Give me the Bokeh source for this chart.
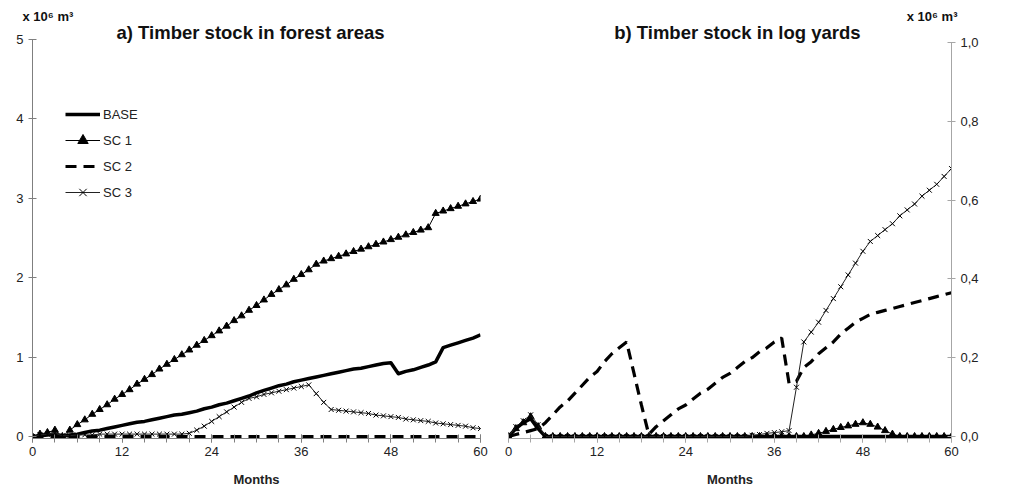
from bokeh.plotting import figure
from bokeh.layouts import row
from bokeh.models import Label, Legend, LegendItem, FixedTicker, CustomJSTickFormatter, Range1d, Title
from bokeh.embed import file_html
from bokeh.resources import INLINE

# ---------------- data ----------------
months = list(range(61))

# a) Timber stock in forest areas (x 10^6 m3)
base_forest = [0.00, 0.01, 0.02, 0.03, 0.00, 0.02, 0.03, 0.05, 0.07, 0.08,
               0.10, 0.12, 0.14, 0.16, 0.18, 0.19, 0.21, 0.23, 0.25, 0.27,
               0.28, 0.30, 0.32, 0.35, 0.37, 0.40, 0.42, 0.45, 0.48, 0.51,
               0.55, 0.58, 0.61, 0.64, 0.66, 0.69, 0.71, 0.73, 0.75, 0.77,
               0.79, 0.81, 0.83, 0.85, 0.86, 0.88, 0.90, 0.92, 0.93, 0.79,
               0.82, 0.84, 0.87, 0.90, 0.94, 1.12, 1.15, 1.18, 1.21, 1.24,
               1.28]
sc1_forest = [0.00, 0.03, 0.05, 0.08, 0.00, 0.08, 0.15, 0.21, 0.28, 0.34,
              0.40, 0.47, 0.53, 0.59, 0.66, 0.72, 0.78, 0.85, 0.91, 0.97,
              1.03, 1.09, 1.15, 1.21, 1.27, 1.33, 1.39, 1.46, 1.52, 1.59,
              1.65, 1.72, 1.79, 1.85, 1.91, 1.98, 2.04, 2.10, 2.17, 2.21,
              2.24, 2.27, 2.30, 2.33, 2.36, 2.39, 2.42, 2.45, 2.48, 2.51,
              2.54, 2.57, 2.60, 2.63, 2.81, 2.84, 2.87, 2.90, 2.93, 2.96,
              2.99]
sc2_forest = [0.00, 0.00, 0.00, 0.00, 0.00, 0.00, 0.00, 0.00, 0.00, 0.00,
              0.00, 0.00, 0.00, 0.00, 0.00, 0.00, 0.00, 0.00, 0.00, 0.00,
              0.00, 0.00, 0.00, 0.00, 0.00, 0.00, 0.00, 0.00, 0.00, 0.00,
              0.00, 0.00, 0.00, 0.00, 0.00, 0.00, 0.00, 0.00, 0.00, 0.00,
              0.00, 0.00, 0.00, 0.00, 0.00, 0.00, 0.00, 0.00, 0.00, 0.00,
              0.00, 0.00, 0.00, 0.00, 0.00, 0.00, 0.00, 0.00, 0.00, 0.00,
              0.00]
sc3_forest = [0.00, 0.02, 0.03, 0.04, 0.01, 0.01, 0.02, 0.02, 0.02, 0.03,
              0.03, 0.03, 0.03, 0.03, 0.03, 0.03, 0.03, 0.03, 0.03, 0.03,
              0.03, 0.04, 0.08, 0.13, 0.19, 0.25, 0.31, 0.37, 0.43, 0.48,
              0.50, 0.53, 0.55, 0.57, 0.59, 0.61, 0.63, 0.65, 0.54, 0.43,
              0.34, 0.33, 0.32, 0.31, 0.30, 0.29, 0.27, 0.26, 0.25, 0.24,
              0.22, 0.21, 0.20, 0.19, 0.17, 0.16, 0.15, 0.14, 0.13, 0.11,
              0.10]

# b) Timber stock in log yards (x 10^6 m3)
base_yard = [0.00, 0.02, 0.035, 0.045, 0.02, 0.00, 0.00, 0.00, 0.00, 0.00,
             0.00, 0.00, 0.00, 0.00, 0.00, 0.00, 0.00, 0.00, 0.00, 0.00,
             0.00, 0.00, 0.00, 0.00, 0.00, 0.00, 0.00, 0.00, 0.00, 0.00,
             0.00, 0.00, 0.00, 0.00, 0.00, 0.00, 0.00, 0.00, 0.00, 0.00,
             0.00, 0.00, 0.00, 0.00, 0.00, 0.00, 0.00, 0.00, 0.00, 0.00,
             0.00, 0.00, 0.00, 0.00, 0.00, 0.00, 0.00, 0.00, 0.00, 0.00,
             0.00]
sc1_yard = [0.00, 0.02, 0.035, 0.05, 0.025, 0.00, 0.00, 0.00, 0.00, 0.00,
            0.00, 0.00, 0.00, 0.00, 0.00, 0.00, 0.00, 0.00, 0.00, 0.00,
            0.00, 0.00, 0.00, 0.00, 0.00, 0.00, 0.00, 0.00, 0.00, 0.00,
            0.00, 0.00, 0.00, 0.00, 0.00, 0.00, 0.00, 0.00, 0.00, 0.00,
            0.00, 0.004, 0.008, 0.013, 0.018, 0.023, 0.027, 0.031, 0.035, 0.031,
            0.024, 0.015, 0.006, 0.00, 0.00, 0.00, 0.00, 0.00, 0.00, 0.00,
            0.00]
sc2_yard = [0.00, 0.005, 0.01, 0.015, 0.02, 0.035, 0.055, 0.075, 0.09, 0.11,
            0.13, 0.15, 0.165, 0.19, 0.21, 0.225, 0.24, 0.16, 0.08, 0.005,
            0.025, 0.04, 0.055, 0.07, 0.08, 0.095, 0.11, 0.12, 0.135, 0.15,
            0.16, 0.175, 0.19, 0.20, 0.215, 0.225, 0.24, 0.25, 0.135, 0.14,
            0.175, 0.19, 0.21, 0.225, 0.24, 0.26, 0.275, 0.29, 0.30, 0.31,
            0.315, 0.32, 0.325, 0.33, 0.335, 0.34, 0.345, 0.35, 0.355, 0.36,
            0.365]
sc3_yard = [0.00, 0.025, 0.04, 0.055, 0.03, 0.00, 0.00, 0.00, 0.00, 0.00,
            0.00, 0.00, 0.00, 0.00, 0.00, 0.00, 0.00, 0.00, 0.00, 0.00,
            0.00, 0.00, 0.00, 0.00, 0.00, 0.00, 0.00, 0.00, 0.00, 0.00,
            0.00, 0.00, 0.00, 0.003, 0.005, 0.008, 0.01, 0.012, 0.015, 0.125,
            0.24, 0.265, 0.29, 0.32, 0.35, 0.38, 0.41, 0.44, 0.47, 0.495,
            0.51, 0.525, 0.54, 0.56, 0.575, 0.59, 0.61, 0.625, 0.64, 0.66,
            0.68]

series_names = ["BASE", "SC 1", "SC 2", "SC 3"]
x_major_ticks = [0, 12, 24, 36, 48, 60]
x_minor_ticks = [0, 3, 6, 9, 12, 15, 18, 21, 24, 27, 30, 33, 36, 39, 42, 45, 48, 51, 54, 57, 60]
left_y_ticks = [0, 1, 2, 3, 4, 5]
right_y_ticks = [0, 0.2, 0.4, 0.6, 0.8, 1.0]
titles = ["a) Timber stock in forest areas", "b) Timber stock in log yards"]
unit_text = "x 10\u2076 m\u00b3"
x_label = "Months"

FONT = "Liberation Sans"
TEXT_COLOR = "#222222"


def style_axes(p, axis_color, y_lo, y_max):
    p.grid.visible = False
    p.outline_line_color = None
    p.background_fill_color = "white"
    p.border_fill_color = "white"
    for ax in p.xaxis + p.yaxis:
        ax.axis_line_color = axis_color
        ax.major_tick_line_color = axis_color
        ax.minor_tick_line_color = axis_color
        ax.major_tick_in = 4
        ax.major_tick_out = 4
        ax.minor_tick_in = 4
        ax.minor_tick_out = 4
        ax.major_label_text_font = FONT
        ax.major_label_text_font_size = "13px"
        ax.major_label_text_color = TEXT_COLOR
        ax.axis_label_text_font = FONT
        ax.axis_label_text_font_style = "bold"
        ax.axis_label_text_font_size = "13px"
        ax.axis_label_text_color = TEXT_COLOR
    xa = p.xaxis[0]
    xa.ticker = FixedTicker(ticks=x_major_ticks, minor_ticks=x_minor_ticks)
    xa.axis_label = x_label
    xa.major_label_standoff = 4
    xa.axis_label_standoff = 13
    xa.bounds = (0, 60)
    ya = p.yaxis[0]
    ya.minor_tick_line_color = None
    ya.major_label_standoff = 5
    ya.bounds = (y_lo, y_max)


def draw_series(p, base, sc1, sc2, sc3):
    r_base = p.line(months, base, line_color="black", line_width=3.5, line_join="round")
    r_sc2 = p.line(months, sc2, line_color="black", line_width=3.2, line_dash="11 7")
    r_sc1l = p.line(months, sc1, line_color="black", line_width=1)
    r_sc1m = p.scatter(months, sc1, marker="triangle", size=7, fill_color="black", line_color="black")
    r_sc3l = p.line(months, sc3, line_color="#222222", line_width=1)
    r_sc3m = p.scatter(months, sc3, marker="x", size=7, line_color="black", line_width=1)
    return [[r_base], [r_sc1l, r_sc1m], [r_sc2], [r_sc3l, r_sc3m]]


def unit_title(align, offset):
    return Title(text=unit_text, align=align, offset=offset, standoff=0,
                 text_font=FONT, text_font_style="bold", text_font_size="13px",
                 text_color="#111111")


# ---------------- left panel ----------------
# frame spans page y 23..438; values 0..5 occupy 397 px (zero at y=436)
LEFT_LO = -0.0252
p1 = figure(width=493, height=494, x_range=Range1d(0, 60), y_range=Range1d(LEFT_LO, 5.2015),
            output_backend="svg", toolbar_location=None,
            min_border_left=32, min_border_right=13, min_border_top=23, min_border_bottom=56)
style_axes(p1, "#7f7f7f", LEFT_LO, 5)
p1.yaxis[0].ticker = FixedTicker(ticks=left_y_ticks)
rs1 = draw_series(p1, base_forest, sc1_forest, sc2_forest, sc3_forest)

legend = Legend(items=[LegendItem(label=n, renderers=r) for n, r in zip(series_names, rs1)],
                location=(33, 233), glyph_width=35, glyph_height=26, label_height=26,
                spacing=0, padding=0, margin=0, label_standoff=3,
                label_text_font=FONT, label_text_font_size="13px", label_text_color=TEXT_COLOR,
                border_line_color=None, background_fill_alpha=0)
p1.add_layout(legend)

p1.add_layout(unit_title("left", -10), "above")
p1.add_layout(Label(x=29.2, y=5.088, text=titles[0], text_align="center", text_baseline="middle",
                    text_font=FONT, text_font_style="bold", text_font_size="18.5px", text_color="#111111"))

# ---------------- right panel ----------------
# frame spans page y 23..439; values 0..1 occupy 395 px (zero at y=437)
RIGHT_LO = -0.00506
p2 = figure(width=528, height=494, x_range=Range1d(0, 60), y_range=Range1d(RIGHT_LO, 1.0481),
            y_axis_location="right",
            output_backend="svg", toolbar_location=None,
            min_border_left=15, min_border_right=70, min_border_top=23, min_border_bottom=55)
style_axes(p2, "#a6a6a6", RIGHT_LO, 1)
p2.yaxis[0].ticker = FixedTicker(ticks=right_y_ticks)
p2.yaxis[0].formatter = CustomJSTickFormatter(code="return tick.toFixed(1).replace('.', ',');")
draw_series(p2, base_yard, sc1_yard, sc2_yard, sc3_yard)

p2.add_layout(unit_title("right", -6), "above")
p2.add_layout(Label(x=31.0, y=1.0253, text=titles[1], text_align="center", text_baseline="middle",
                    text_font=FONT, text_font_style="bold", text_font_size="18.5px", text_color="#111111"))

layout = row(p1, p2)
open("out.html", "w").write(file_html(layout, INLINE))
